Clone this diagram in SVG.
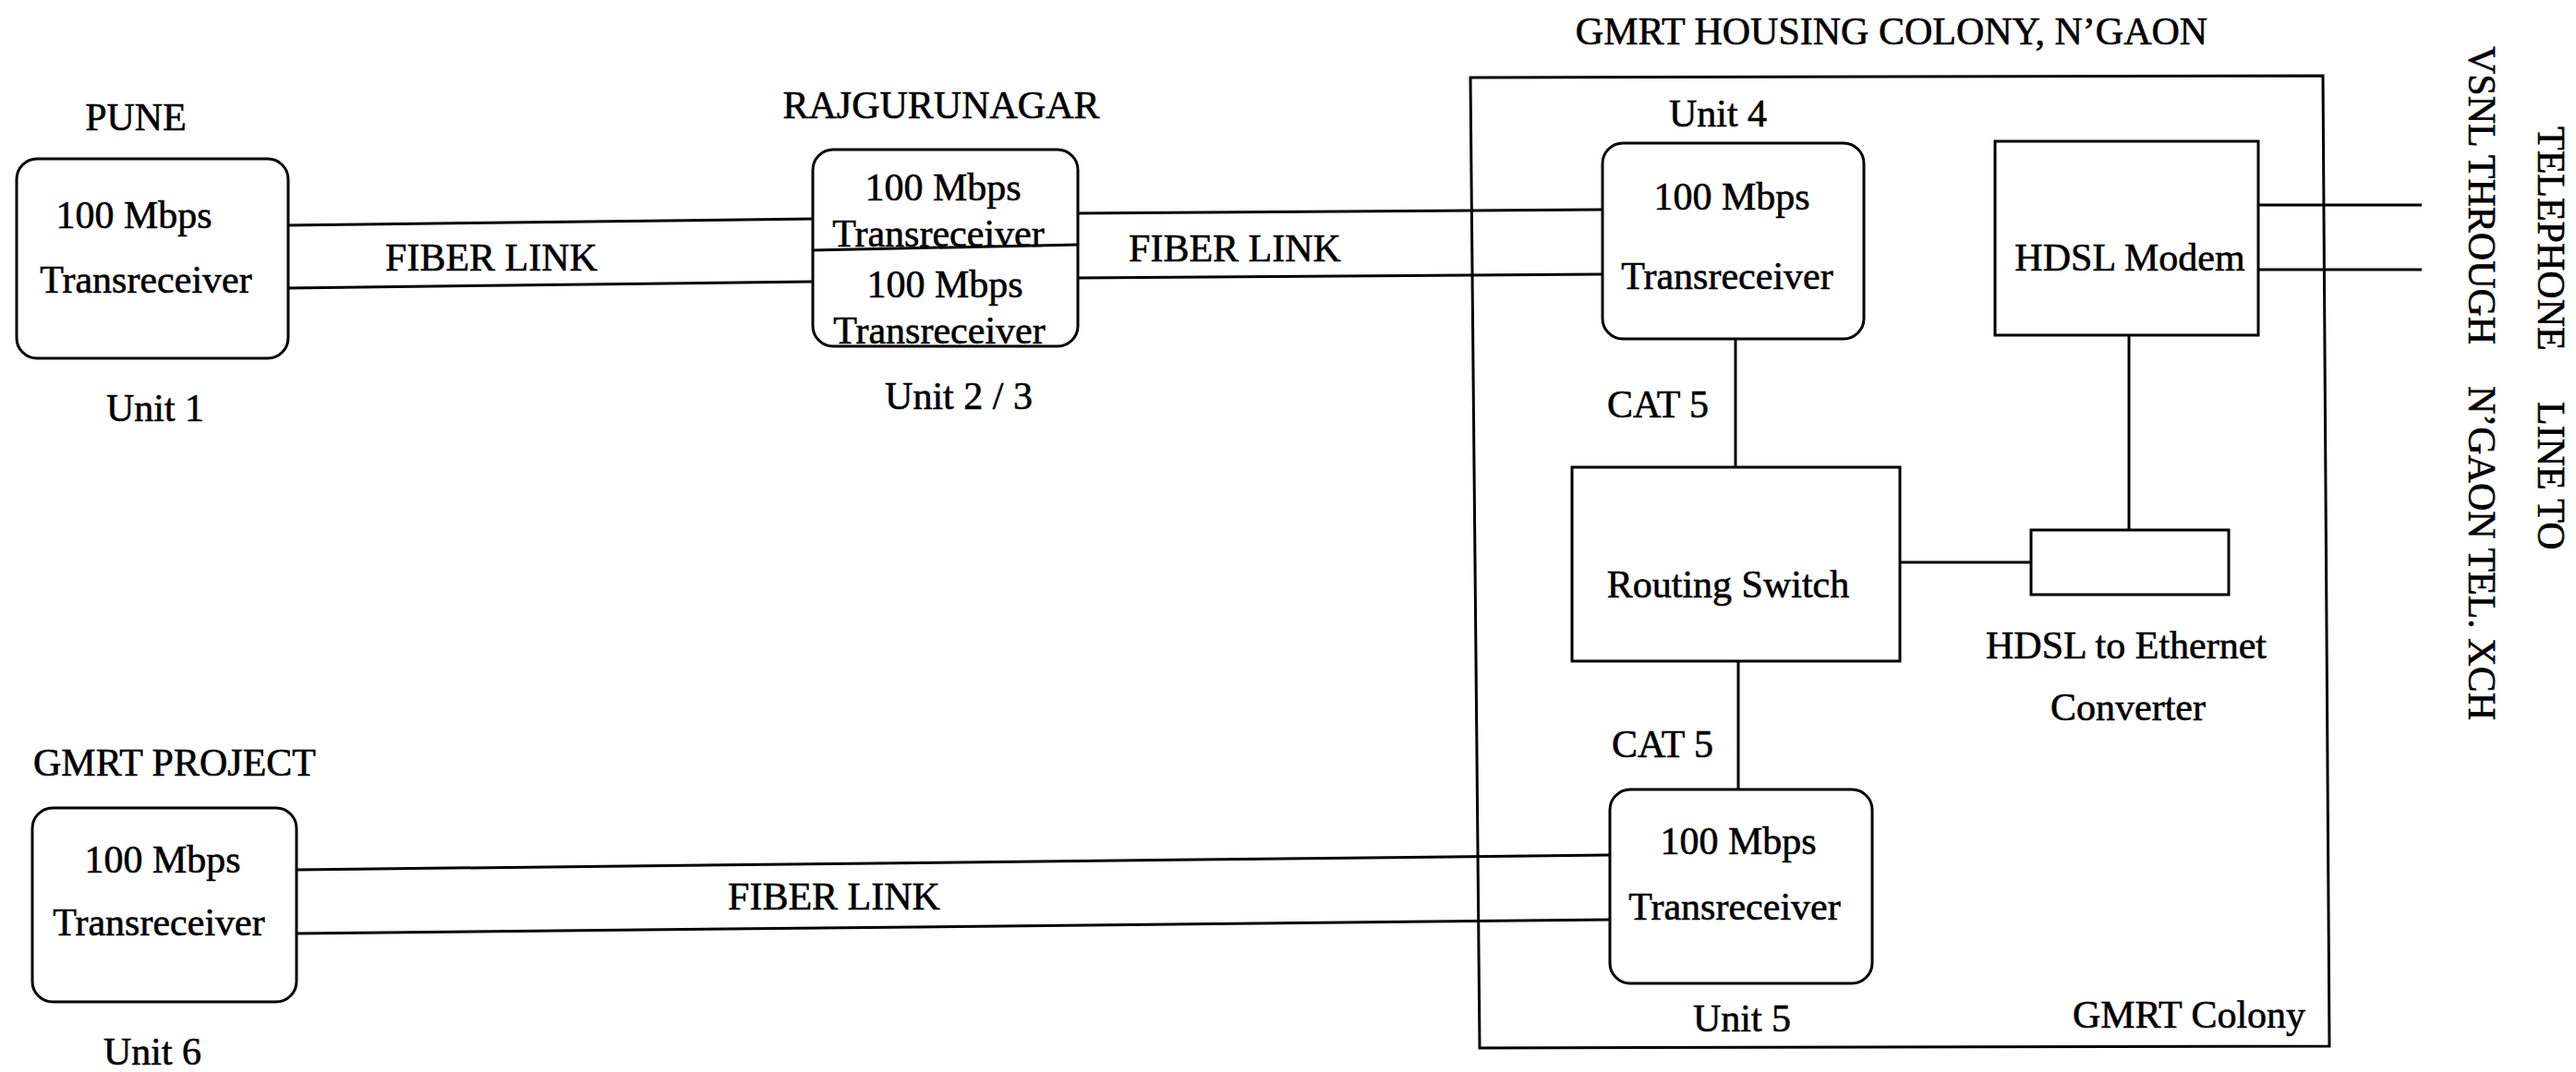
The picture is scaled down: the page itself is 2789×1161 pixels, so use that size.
<svg xmlns="http://www.w3.org/2000/svg" width="2789" height="1161" viewBox="0 0 2789 1161">
  <style>
    text { font-family: "Liberation Serif", "Times New Roman", serif; font-size: 42px; fill: #000; stroke: #000; stroke-width: 0.6px; }
    .c { text-anchor: middle; }
    .box { fill: none; stroke: #000; stroke-width: 3; }
    .wire { fill: none; stroke: #000; stroke-width: 3; }
  </style>
  <rect width="2789" height="1161" fill="#fff"/>

  <!-- colony enclosure -->
  <g id="colony">
    <path class="box" d="M1592,84 L2515,82 L2522,1133 L1602,1135 Z"/>
    <text class="c" x="2048" y="48">GMRT HOUSING COLONY, N’GAON</text>
    <text class="c" x="2370" y="1113">GMRT Colony</text>
  </g>

  <!-- links between units -->
  <g id="connectors">
    <path class="wire" d="M312,244 L880,237"/>
    <path class="wire" d="M312,312 L880,305"/>
    <text class="c" x="532" y="293">FIBER LINK</text>

    <path class="wire" d="M1167,231 L1735,227"/>
    <path class="wire" d="M1167,301 L1735,297"/>
    <text class="c" x="1337" y="283">FIBER LINK</text>

    <path class="wire" d="M321,942 L1743,926"/>
    <path class="wire" d="M321,1011 L1743,996"/>
    <text class="c" x="903" y="985">FIBER LINK</text>

    <path class="wire" d="M1879,367 V506"/>
    <text class="c" x="1795" y="452">CAT 5</text>
    <path class="wire" d="M1882,716 V855"/>
    <text class="c" x="1800" y="820">CAT 5</text>

    <path class="wire" d="M2305,363 V574"/>
    <path class="wire" d="M2057,609 H2199"/>
    <path class="wire" d="M2445,222 H2622"/>
    <path class="wire" d="M2445,292 H2622"/>
  </g>

  <!-- Unit 1 -->
  <g id="pune">
    <text class="c" x="147" y="141">PUNE</text>
    <rect class="box" x="18" y="172" width="294" height="216" rx="22"/>
    <text class="c" x="145" y="247">100 Mbps</text>
    <text class="c" x="158" y="317">Transreceiver</text>
    <text class="c" x="168" y="456">Unit 1</text>
  </g>

  <!-- Units 2 and 3 -->
  <g id="rajgurunagar">
    <text class="c" x="1019" y="128">RAJGURUNAGAR</text>
    <rect class="box" x="880" y="162" width="287" height="213" rx="22"/>
    <path class="box" d="M880,271 L1167,265"/>
    <text class="c" x="1021" y="217">100 Mbps</text>
    <text class="c" x="1016" y="267">Transreceiver</text>
    <text class="c" x="1023" y="322">100 Mbps</text>
    <text class="c" x="1017" y="372">Transreceiver</text>
    <text class="c" x="1038" y="443">Unit 2 / 3</text>
  </g>

  <!-- Unit 4 -->
  <g id="unit4">
    <text class="c" x="1860" y="137">Unit 4</text>
    <rect class="box" x="1735" y="155" width="283" height="212" rx="22"/>
    <text class="c" x="1875" y="227">100 Mbps</text>
    <text class="c" x="1870" y="313">Transreceiver</text>
  </g>

  <g id="hdsl-modem">
    <rect class="box" x="2160" y="153" width="285" height="210"/>
    <text class="c" x="2306" y="293">HDSL Modem</text>
  </g>

  <g id="routing-switch">
    <rect class="box" x="1702" y="506" width="355" height="210"/>
    <text class="c" x="1871" y="647">Routing Switch</text>
  </g>

  <g id="converter">
    <rect class="box" x="2199" y="574" width="214" height="70"/>
    <text class="c" x="2302" y="713">HDSL to Ethernet</text>
    <text class="c" x="2304" y="780">Converter</text>
  </g>

  <!-- Unit 5 -->
  <g id="unit5">
    <rect class="box" x="1743" y="855" width="284" height="210" rx="22"/>
    <text class="c" x="1882" y="925">100 Mbps</text>
    <text class="c" x="1878" y="996">Transreceiver</text>
    <text class="c" x="1886" y="1117">Unit 5</text>
  </g>

  <!-- Unit 6 -->
  <g id="gmrt-project">
    <text class="c" x="189" y="840">GMRT PROJECT</text>
    <rect class="box" x="35" y="875" width="286" height="210" rx="22"/>
    <text class="c" x="176" y="945">100 Mbps</text>
    <text class="c" x="172" y="1013">Transreceiver</text>
    <text class="c" x="165" y="1153">Unit 6</text>
  </g>

  <!-- outgoing telephone line, vertical captions -->
  <g id="exchange-line">
    <text transform="translate(2748,137) rotate(90)">TELEPHONE</text>
    <text transform="translate(2748,435) rotate(90)">LINE TO</text>
    <text transform="translate(2673,50) rotate(90)">VSNL THROUGH</text>
    <text transform="translate(2673,418) rotate(90)">N’GAON TEL. XCH</text>
  </g>
</svg>
